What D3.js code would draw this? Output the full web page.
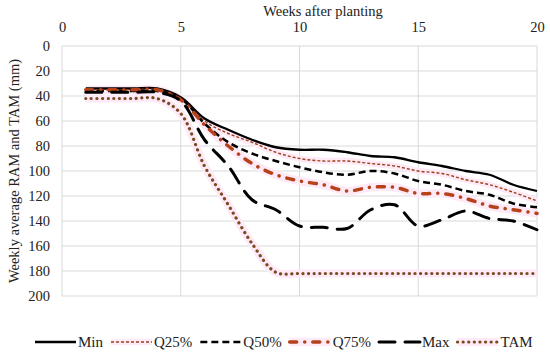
<!DOCTYPE html>
<html lang="en">
  <head>
    <meta charset="utf-8">
    <title>Weekly average RAM and TAM</title>
    <script src="https://d3js.org/d3.v7.min.js"></script>
    <style>
      body { margin: 0; background: #fff; }
      svg { display: block; }
      svg text { font-family: "Liberation Serif", "Times New Roman", Tinos, "DejaVu Serif", "Noto Serif", serif; }
    </style>
  </head>
  <body>
    <div id="main"></div>
    <script>
      // weeks after planting
      var weeks = [1, 2, 3, 4, 5, 6, 7, 8, 9, 10, 11, 12, 13, 14, 15, 16, 17, 18, 19, 20];
      // weekly average RAM / TAM (mm)
      var minVals = [34, 34, 34, 34, 41, 58, 67, 75, 81, 83, 83, 85, 88, 89, 93, 96, 100, 103, 111, 116];
      var q25Vals = [35, 35, 35, 35, 42, 60, 70, 77, 85, 90, 92, 92, 94, 96, 100, 102, 107, 111, 117, 124];
      var q50Vals = [36, 36, 36, 36, 42, 62, 77, 86, 92, 97, 101, 103, 100, 102, 108, 111, 116, 119, 126, 129];
      var q75Vals = [35, 35, 35, 35, 43, 63, 80, 94, 103, 108, 111, 116, 113, 113, 118, 118, 122, 128, 131, 134];
      var maxVals = [37, 37, 37, 37, 44, 75, 96, 123, 131, 144, 145, 146, 131, 127, 144, 139, 132, 138, 140, 147];
      var tamVals = [42, 42, 42, 42, 54, 96, 127, 158, 181, 182, 182, 182, 182, 182, 182, 182, 182, 182, 182, 182];
      var xTicks = [0, 5, 10, 15, 20];
      var yTicks = [0, 20, 40, 60, 80, 100, 120, 140, 160, 180, 200];

      var series = [
        {name: "Min", values: minVals, color: "#000", width: 2.3, dash: null, cap: "butt"},
        {name: "Q25%", values: q25Vals, color: "#9c3f16", width: 1.4, dash: "3,2", cap: "butt", glow: true},
        {name: "Q50%", values: q50Vals, color: "#000", width: 2.5, dash: "7,4", cap: "butt"},
        {name: "Q75%", values: q75Vals, color: "#b5421a", width: 3.5, dash: "7,8,0.1,8", cap: "round", glow: true},
        {name: "Max", values: maxVals, color: "#000", width: 3, dash: "16,10", cap: "round"},
        {name: "TAM", values: tamVals, color: "#7b4a22", width: 3.2, dash: "0.1,5.5", cap: "round", glow: true}
      ];

      var W = 550, H = 355;
      var svg = d3.select("#main").append("svg").attr("width", W).attr("height", H);

      var x = d3.scaleLinear().domain([0, 20]).range([62, 537]);
      var y = d3.scaleLinear().domain([0, 200]).range([46, 296]);

      // grid
      svg.append("g").selectAll("line").data(yTicks).enter().append("line")
        .attr("x1", x(0)).attr("x2", x(20))
        .attr("y1", function(d) { return y(d); }).attr("y2", function(d) { return y(d); })
        .attr("stroke", "#d9d9d9").attr("stroke-width", 1);
      svg.append("g").selectAll("line").data(xTicks).enter().append("line")
        .attr("y1", y(0)).attr("y2", y(200))
        .attr("x1", function(d) { return x(d); }).attr("x2", function(d) { return x(d); })
        .attr("stroke", "#d9d9d9").attr("stroke-width", 1);

      // axes (labels only)
      var xAxis = svg.append("g").attr("transform", "translate(0," + (y(0) - 1) + ")")
        .call(d3.axisTop(x).tickValues(xTicks).tickSize(0).tickPadding(13));
      var yAxis = svg.append("g").attr("transform", "translate(" + (x(0) - 1) + ",0)")
        .call(d3.axisLeft(y).tickValues(yTicks).tickSize(0).tickPadding(11));
      [xAxis, yAxis].forEach(function(a) {
        a.attr("font-family", null);
        a.select(".domain").remove();
        a.selectAll("text").attr("font-size", 14.5).attr("fill", "#222");
      });

      svg.append("text")
        .attr("x", 323).attr("y", 16)
        .attr("text-anchor", "middle").attr("font-size", 14.5).attr("fill", "#222")
        .text("Weeks after planting");
      svg.append("text")
        .attr("transform", "translate(19," + ((y(0) + y(200)) / 2) + ") rotate(-90)")
        .attr("text-anchor", "middle").attr("font-size", 14.5).attr("fill", "#222")
        .text("Weekly average RAM and TAM (mm)");

      var line = d3.line()
        .x(function(d, i) { return x(weeks[i]); })
        .y(function(d) { return y(d); })
        .curve(d3.curveCatmullRom.alpha(0.5));

      // pink glow under some series
      series.filter(function(s) { return s.glow; }).forEach(function(s) {
        svg.append("path")
          .attr("d", line(s.values))
          .attr("fill", "none")
          .attr("stroke", "#feeaf7")
          .attr("stroke-width", s.width + 5)
          .attr("stroke-linejoin", "round");
      });

      series.forEach(function(s) {
        svg.append("path")
          .attr("d", line(s.values))
          .attr("fill", "none")
          .attr("stroke", s.color)
          .attr("stroke-width", s.width)
          .attr("stroke-dasharray", s.dash)
          .attr("stroke-linecap", s.cap)
          .attr("stroke-linejoin", "round");
      });

      // legend
      var legend = svg.append("g").attr("transform", "translate(0,342)");
      var lx = 35;
      series.forEach(function(s) {
        var g = legend.append("g");
        if (s.glow) {
          g.append("line").attr("x1", lx).attr("x2", lx + 41).attr("y1", 0).attr("y2", 0)
            .attr("stroke", "#feeaf7").attr("stroke-width", s.width + 5);
        }
        g.append("line").attr("x1", lx).attr("x2", lx + 41).attr("y1", 0).attr("y2", 0)
          .attr("stroke", s.color).attr("stroke-width", s.width)
          .attr("stroke-dasharray", s.dash).attr("stroke-linecap", s.cap);
        var t = g.append("text").attr("x", lx + 43).attr("y", 5)
          .attr("font-size", 15).attr("fill", "#222").text(s.name);
        lx += 43 + t.node().getComputedTextLength() + 8;
      });
    </script>
  </body>
</html>
